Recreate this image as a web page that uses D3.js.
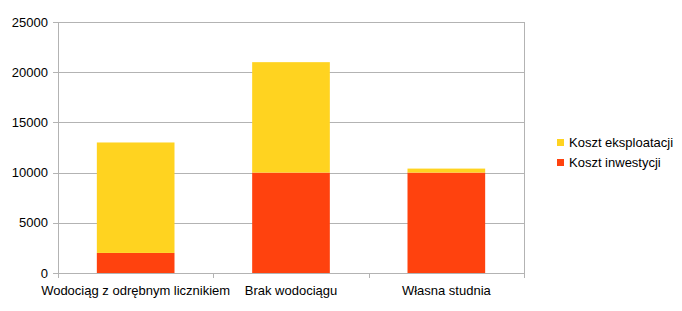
<!DOCTYPE html>
<html>
<head>
<meta charset="utf-8">
<script src="https://cdn.jsdelivr.net/npm/d3@7"></script>
<style>
  body { margin: 0; background: #fff; }
  svg text { font-family: "Liberation Sans", Arial, sans-serif; font-size: 13px; fill: #000; }
</style>
</head>
<body>
<svg id="chart" width="682" height="311"></svg>
<script>
  var categories = ['Wodociąg z odrębnym licznikiem', 'Brak wodociągu', 'Własna studnia'],
      seriesNames = ['Koszt inwestycji', 'Koszt eksploatacji'],
      kosztInwestycji = [2000, 10000, 10000],
      kosztEksploatacji = [11000, 11000, 400],
      yTicks = [0, 5000, 10000, 15000, 20000, 25000],
      colors = ['#ff420e', '#ffd320'];

  (function () {
    'use strict';

    var plotLeft = 58, plotRight = 524, plotTop = 22, plotBottom = 273,
        gridColor = '#b3b3b3',
        svg = d3.select('#chart');

    var rows = categories.map(function (c, i) {
      return { cat: c, 'Koszt inwestycji': kosztInwestycji[i], 'Koszt eksploatacji': kosztEksploatacji[i] };
    });
    var stacked = d3.stack().keys(seriesNames)(rows);

    var x = d3.scaleBand().domain(categories).range([plotLeft, plotRight]).paddingInner(0).paddingOuter(0);
    var y = d3.scaleLinear().domain([0, 25000]).range([plotBottom, plotTop]);
    var barW = x.bandwidth() * 0.5;

    // grid lines + small ticks on the left
    svg.append('g').selectAll('line').data(yTicks).enter().append('line')
      .attr('x1', plotLeft - 5).attr('x2', plotRight)
      .attr('y1', function (d) { return Math.round(y(d)) + 0.5; })
      .attr('y2', function (d) { return Math.round(y(d)) + 0.5; })
      .attr('stroke', gridColor);

    svg.append('g').selectAll('text').data(yTicks).enter().append('text')
      .attr('x', plotLeft - 10)
      .attr('y', function (d) { return y(d); })
      .attr('dy', '0.35em')
      .attr('text-anchor', 'end')
      .text(function (d) { return d; });

    // bars
    svg.append('g').selectAll('g').data(stacked).enter().append('g')
      .attr('fill', function (d, i) { return colors[i]; })
      .selectAll('rect').data(function (d) { return d; }).enter().append('rect')
      .attr('x', function (d) { return x(d.data.cat) + (x.bandwidth() - barW) / 2; })
      .attr('width', barW)
      .attr('y', function (d) { return y(d[1]); })
      .attr('height', function (d) { return y(d[0]) - y(d[1]); });

    // axes frame
    svg.append('line').attr('x1', plotLeft + 0.5).attr('x2', plotLeft + 0.5)
      .attr('y1', plotTop).attr('y2', plotBottom + 5).attr('stroke', gridColor);
    svg.append('line').attr('x1', plotRight + 0.5).attr('x2', plotRight + 0.5)
      .attr('y1', plotTop).attr('y2', plotBottom + 5).attr('stroke', gridColor);
    svg.append('g').selectAll('line').data(categories.slice(1)).enter().append('line')
      .attr('x1', function (d) { return Math.round(x(d)) + 0.5; })
      .attr('x2', function (d) { return Math.round(x(d)) + 0.5; })
      .attr('y1', plotBottom).attr('y2', plotBottom + 5)
      .attr('stroke', gridColor);

    // category labels
    svg.append('g').selectAll('text').data(categories).enter().append('text')
      .attr('x', function (d) { return x(d) + x.bandwidth() / 2; })
      .attr('y', plotBottom + 22)
      .attr('text-anchor', 'middle')
      .text(function (d) { return d; });

    // legend
    var legend = svg.append('g').selectAll('g').data(seriesNames.slice().reverse()).enter().append('g')
      .attr('transform', function (d, i) { return 'translate(557,' + (139 + i * 20) + ')'; });
    legend.append('rect').attr('width', 7).attr('height', 7)
      .attr('fill', function (d) { return colors[seriesNames.indexOf(d)]; });
    legend.append('text').attr('x', 12).attr('y', 3.5).attr('dy', '0.35em')
      .text(function (d) { return d; });
  })();
</script>
</body>
</html>
